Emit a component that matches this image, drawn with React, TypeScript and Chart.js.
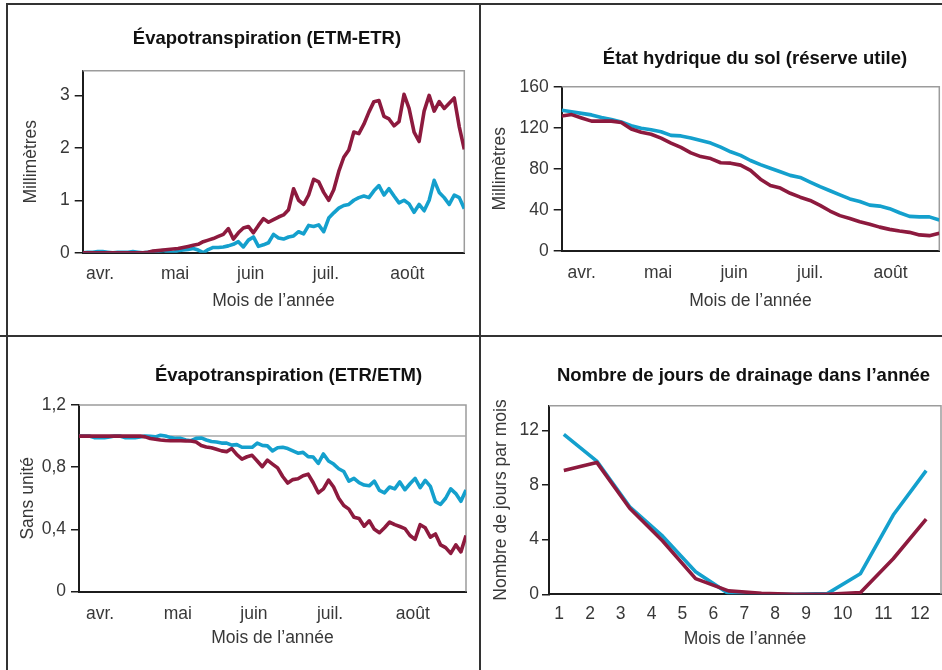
import React, { useEffect, useRef } from 'react';
import { Chart, registerables } from 'chart.js';

Chart.register(...registerables);
Chart.defaults.font.family = "'Liberation Sans', Arial, sans-serif";
Chart.defaults.color = '#333';

// ---------------- DATA ----------------
const WINE = '#8d1a3e';
const CYAN = '#14a0cd';
const REF_GREY = '#a8a8a8';

const MONTH_LABELS = ['avr.', 'mai', 'juin', 'juil.', 'août'];
const X_TITLE = 'Mois de l’année';

// Panel A: Évapotranspiration (ETM-ETR), mm, one value every 2 days from 1 April
const STEP_A = 2;
const ETM_ETR_WINE = [
  0, 0, 0, 0, 0, 0, 0, 0, 0, 0, 0, 0, 0,
  0.01, 0.03, 0.04, 0.05, 0.06, 0.07, 0.08, 0.1, 0.12, 0.14,
  0.16, 0.21, 0.24, 0.27, 0.31, 0.35, 0.46, 0.26, 0.38, 0.47,
  0.5, 0.38, 0.52, 0.65, 0.58, 0.63, 0.68, 0.72, 0.82, 1.22,
  1.0, 0.92, 1.1, 1.4, 1.35, 1.15, 1.0, 1.2, 1.55, 1.82,
  1.96, 2.3, 2.27, 2.45, 2.68, 2.88, 2.9, 2.6, 2.55, 2.42,
  2.5, 3.02, 2.75, 2.3, 2.12, 2.7, 3.0, 2.7, 2.88, 2.75,
  2.85, 2.95, 2.4, 1.97,
];
const ETM_ETR_CYAN = [
  0, 0.01, 0.01, 0.02, 0.02, 0.01, 0, 0.01, 0.01, 0.01, 0.02, 0.01, 0,
  0.01, 0.02, 0.03, 0.04, 0.02, 0.0, 0.04, 0.05, 0.06, 0.08,
  0.05, 0.0, 0.06, 0.1, 0.1, 0.11, 0.13, 0.16, 0.21, 0.11,
  0.24, 0.3, 0.12, 0.15, 0.19, 0.35, 0.28, 0.26, 0.3, 0.32,
  0.4, 0.36, 0.52, 0.5, 0.53, 0.4, 0.66, 0.76, 0.85, 0.9,
  0.92, 1.0, 1.05, 1.08, 1.05, 1.18, 1.28, 1.1, 1.22, 1.08,
  0.95, 1.0, 0.93, 0.77, 0.92, 0.8, 1.0, 1.38, 1.15, 1.05,
  0.92, 1.1, 1.05, 0.84,
];
const Y_TICKS_ETM = [0, 1, 2, 3];

// Panel B: État hydrique du sol (réserve utile), mm, one value every 4 days
const STEP_B = 4;
const RU_CYAN = [
  137, 135.5, 134, 132.5, 130, 128, 125.5, 122, 119.5, 118,
  116, 112.5, 112, 110, 107.5, 105, 101, 96.5, 93, 88,
  84, 80.5, 77, 73.5, 71.5, 67, 62.5, 58.5, 54.5, 50.5,
  48, 44.5, 43.5, 41, 37, 33.5, 33, 33, 30,
];
const RU_WINE = [
  131.5, 132.8, 129.5, 126.4, 126.4, 126.4, 125, 118.7, 115.5, 113.6,
  109.8, 105, 100.8, 95.4, 91.8, 89.9, 85.8, 85.4, 83.5, 78.4,
  69.8, 63.7, 61.1, 56, 52.2, 49, 44.2, 38.7, 34.2, 31.4,
  28.2, 25.9, 23, 20.8, 19.2, 17.9, 15.4, 14.7, 17,
];
const Y_TICKS_RU = [0, 40, 80, 120, 160];

// Panel C: Évapotranspiration (ETR/ETM), ratio, one value every 2 days
const STEP_C = 2;
const ETR_ETM_WINE = [
  1, 1, 1, 1, 1, 1, 1, 1, 1, 1, 1, 1, 1,
  0.995, 0.985, 0.98, 0.975, 0.972, 0.97, 0.97, 0.97, 0.968, 0.968,
  0.962, 0.94, 0.93, 0.925, 0.915, 0.905, 0.9, 0.92, 0.88, 0.852,
  0.867, 0.876, 0.84, 0.803, 0.845, 0.82, 0.795, 0.74, 0.698, 0.72,
  0.725, 0.745, 0.755, 0.7, 0.635, 0.66, 0.717, 0.672, 0.6, 0.553,
  0.53, 0.478, 0.47, 0.42, 0.455, 0.4, 0.378, 0.41, 0.447, 0.43,
  0.418, 0.405, 0.36, 0.335, 0.43, 0.41, 0.35, 0.37, 0.3, 0.282,
  0.245, 0.3, 0.255, 0.36,
];
const ETR_ETM_CYAN = [
  1.0, 1.0, 1.0, 0.99, 0.99, 0.99, 0.995, 1.0, 1.0, 0.99,
  0.99, 0.99, 0.995, 1.0, 0.998, 0.995, 1.005, 1.0, 0.99, 0.985,
  0.985, 0.975, 0.97, 0.985, 0.988, 0.975, 0.965, 0.962, 0.955, 0.955,
  0.942, 0.945, 0.928, 0.928, 0.928, 0.955, 0.94, 0.937, 0.905, 0.925,
  0.928, 0.92, 0.905, 0.89, 0.895, 0.868, 0.865, 0.825, 0.885, 0.84,
  0.82, 0.79, 0.772, 0.71, 0.728, 0.7, 0.685, 0.68, 0.71, 0.65,
  0.635, 0.672, 0.66, 0.705, 0.655, 0.693, 0.728, 0.668, 0.715, 0.676,
  0.578, 0.56, 0.6, 0.66, 0.63, 0.58, 0.653,
];
const ETR_ETM_REF = 1;
const Y_TICKS_RATIO = [0, 0.4, 0.8, 1.2];

// Panel D: Nombre de jours de drainage par mois
const DRAIN_MONTHS = ['1', '2', '3', '4', '5', '6', '7', '8', '9', '10', '11', '12'];
const DRAIN_CYAN = [11.7, 9.75, 6.4, 4.25, 1.65, 0.05, 0, 0, 0.05, 1.5, 5.8, 9.05];
const DRAIN_WINE = [9.05, 9.65, 6.3, 3.9, 1.15, 0.25, 0.08, 0, 0, 0.12, 2.6, 5.5];
const Y_TICKS_DRAIN = [0, 4, 8, 12];

// ---------------- LAYOUT / STYLE ----------------
const AXIS_SIZE = 17.5;
const TITLE_SIZE = 18.5;
const AXIS_LH = AXIS_SIZE * 1.2;
const TITLE_LH = TITLE_SIZE * 1.2;
const AXIS_COLOR = '#1c1c1c';
const TEXT_COLOR = '#383838';
const LINE_W = 3.6;

type Geo = {
  L: number; T: number; B: number;
  cL: number; cR: number; cT: number; cB: number;
  tX: number; tY: number; yTX: number; xLY: number; xTY: number;
  tickLen: number; tickPad: number;
};

const frame = {
  id: 'frame',
  beforeDatasetsDraw(chart: any) {
    const { ctx, chartArea: a } = chart;
    ctx.save();
    ctx.strokeStyle = '#9c9c9c';
    ctx.lineWidth = 1.5;
    ctx.beginPath();
    ctx.moveTo(a.left, a.top);
    ctx.lineTo(a.right, a.top);
    ctx.lineTo(a.right, a.bottom);
    ctx.stroke();
    ctx.restore();
  },
};

const series = (values: number[], step: number, start = 0) =>
  values.map((v, i) => ({ x: start + i * step, y: v }));

const lineDs = (label: string, data: any[], color: string, width = LINE_W) => ({
  label, data, borderColor: color, backgroundColor: color, borderWidth: width,
  pointRadius: 0, tension: 0, fill: false, borderJoinStyle: 'round', xAxisID: 'x', yAxisID: 'y',
});

type Spec = {
  geo: Geo; title: string; yTitle: string;
  datasets: any[];
  xMin: number; xMax: number; xTickAt: number[]; xLabels: string[];
  yMin: number; yMax: number; yTicks: number[]; yFmt: (v: number) => string;
};

function dims(g: Geo) {
  const W = Math.round(2 * (g.tX - g.L));
  const H = g.B - g.T;
  const tPadTop = g.tY - g.T - TITLE_LH / 2;
  return {
    W, H, tPadTop,
    tPadBottom: g.cT - g.T - TITLE_LH - tPadTop,
    yWidth: g.cL - g.L,
    yTitlePad: g.yTX - g.L - AXIS_LH / 2,
    rWidth: g.L + W - g.cR,
    xHeight: g.B - g.cB,
    xTickPad: g.xLY - g.cB - AXIS_LH / 2,
    xTitlePadBottom: g.B - g.xTY - AXIS_LH / 2,
  };
}

function buildConfig(s: Spec): any {
  const d = dims(s.geo);
  return {
    type: 'line',
    data: { datasets: s.datasets },
    options: {
      responsive: false,
      maintainAspectRatio: false,
      animation: false,
      layout: { padding: 0 },
      plugins: {
        legend: { display: false },
        tooltip: { enabled: false },
        title: {
          display: true, text: s.title, color: '#111', fullSize: true,
          font: { size: TITLE_SIZE, weight: 'bold' },
          padding: { top: d.tPadTop, bottom: d.tPadBottom },
        },
      },
      scales: {
        x: {
          type: 'linear', position: 'bottom', min: s.xMin, max: s.xMax,
          afterBuildTicks: (a: any) => { a.ticks = s.xTickAt.map((v) => ({ value: v })); },
          afterFit: (a: any) => { a.height = d.xHeight; },
          ticks: {
            autoSkip: false, maxRotation: 0, minRotation: 0, padding: d.xTickPad,
            color: TEXT_COLOR, font: { size: AXIS_SIZE },
            callback: (_v: any, i: number) => s.xLabels[i],
          },
          grid: { display: false, drawTicks: false, tickLength: 0 },
          border: { display: true, color: AXIS_COLOR, width: 2 },
          title: {
            display: true, text: X_TITLE, color: TEXT_COLOR, font: { size: AXIS_SIZE },
            padding: { top: 0, bottom: d.xTitlePadBottom },
          },
        },
        y: {
          type: 'linear', position: 'left', min: s.yMin, max: s.yMax,
          afterBuildTicks: (a: any) => { a.ticks = s.yTicks.map((v) => ({ value: v })); },
          afterFit: (a: any) => { a.width = d.yWidth; },
          ticks: {
            padding: s.geo.tickPad, color: TEXT_COLOR, font: { size: AXIS_SIZE },
            callback: (v: any) => s.yFmt(Number(v)),
          },
          grid: {
            display: true, drawOnChartArea: false, drawTicks: true,
            tickLength: s.geo.tickLen, color: AXIS_COLOR, lineWidth: 1.5,
          },
          border: { display: true, color: AXIS_COLOR, width: 2 },
          title: {
            display: true, text: s.yTitle, color: TEXT_COLOR, font: { size: AXIS_SIZE },
            padding: { top: d.yTitlePad, bottom: 0 },
          },
        },
        spacer: {
          type: 'linear', position: 'right', display: true,
          afterFit: (a: any) => { a.width = d.rWidth; },
          ticks: { display: false }, grid: { display: false },
          border: { display: false }, title: { display: false },
        },
      },
    },
    plugins: [frame],
  };
}

function Panel({ spec }: { spec: Spec }) {
  const ref = useRef<HTMLCanvasElement | null>(null);
  const d = dims(spec.geo);
  useEffect(() => {
    if (!ref.current) return;
    const chart = new Chart(ref.current, buildConfig(spec));
    return () => chart.destroy();
  }, []);
  return (
    <canvas
      ref={ref}
      width={d.W}
      height={d.H}
      style={{ position: 'absolute', left: spec.geo.L, top: spec.geo.T, width: d.W, height: d.H }}
    />
  );
}

const plain = (v: number) => String(v);
const comma = (v: number) => String(v).replace('.', ',');

const SPECS: Spec[] = [
  {
    geo: { L: 8, T: 8, B: 332, cL: 82.7, cR: 464.3, cT: 70.7, cB: 252.7, tX: 267, tY: 39, yTX: 31, xLY: 274, xTY: 301, tickLen: 8, tickPad: 5 },
    title: 'Évapotranspiration (ETM-ETR)', yTitle: 'Millimètres',
    datasets: [
      lineDs('ETM-ETR (bordeaux)', series(ETM_ETR_WINE, STEP_A), WINE),
      lineDs('ETM-ETR (bleu)', series(ETM_ETR_CYAN, STEP_A), CYAN),
    ],
    xMin: 0, xMax: 152, xTickAt: [6.9, 36.8, 66.9, 96.9, 129.3], xLabels: MONTH_LABELS,
    yMin: 0, yMax: 3.47, yTicks: Y_TICKS_ETM, yFmt: plain,
  },
  {
    geo: { L: 482, T: 8, B: 332, cL: 561.7, cR: 939.3, cT: 86.7, cB: 250.7, tX: 755, tY: 59, yTX: 500, xLY: 273.3, xTY: 301, tickLen: 8, tickPad: 5 },
    title: 'État hydrique du sol (réserve utile)', yTitle: 'Millimètres',
    datasets: [
      lineDs('RU (bordeaux)', series(RU_WINE, STEP_B), WINE),
      lineDs('RU (bleu)', series(RU_CYAN, STEP_B), CYAN),
    ],
    xMin: 0, xMax: 152, xTickAt: [8.05, 38.8, 69.4, 100, 132.4], xLabels: MONTH_LABELS,
    yMin: 0, yMax: 160, yTicks: Y_TICKS_RU, yFmt: plain,
  },
  {
    geo: { L: 8, T: 340, B: 668, cL: 79, cR: 466, cT: 405, cB: 591.5, tX: 288.3, tY: 375.7, yTX: 28.3, xLY: 614.3, xTY: 638.3, tickLen: 8, tickPad: 5 },
    title: 'Évapotranspiration (ETR/ETM)', yTitle: 'Sans unité',
    datasets: [
      lineDs('ETR/ETM (bordeaux)', series(ETR_ETM_WINE, STEP_C), WINE),
      lineDs('ETR/ETM (bleu)', series(ETR_ETM_CYAN, STEP_C), CYAN),
      lineDs('Référence', [{ x: 0, y: ETR_ETM_REF }, { x: 152, y: ETR_ETM_REF }], REF_GREY, 1.5),
    ],
    xMin: 0, xMax: 152, xTickAt: [8.25, 38.8, 68.7, 98.6, 131.1], xLabels: MONTH_LABELS,
    yMin: 0, yMax: 1.2, yTicks: Y_TICKS_RATIO, yFmt: comma,
  },
  {
    geo: { L: 482, T: 340, B: 668, cL: 549, cR: 941, cT: 405.7, cB: 594.3, tX: 743.7, tY: 375.7, yTX: 500.7, xLY: 614.3, xTY: 639, tickLen: 7, tickPad: 3 },
    title: 'Nombre de jours de drainage dans l’année', yTitle: 'Nombre de jours par mois',
    datasets: [
      lineDs('Drainage (bordeaux)', series(DRAIN_WINE, 1, 1), WINE),
      lineDs('Drainage (bleu)', series(DRAIN_CYAN, 1, 1), CYAN),
    ],
    xMin: 0.55, xMax: 12.45,
    xTickAt: [0.854, 1.795, 2.727, 3.668, 4.597, 5.538, 6.479, 7.411, 8.352, 9.466, 10.699, 11.813],
    xLabels: DRAIN_MONTHS,
    yMin: 0, yMax: 13.8, yTicks: Y_TICKS_DRAIN, yFmt: plain,
  },
];

const rule = (style: React.CSSProperties) => (
  <div style={{ position: 'absolute', background: '#333', ...style }} />
);

export default function App() {
  return (
    <div style={{ position: 'absolute', left: 0, top: 0, width: 942, height: 670, overflow: 'hidden', background: '#fff' }}>
      {SPECS.map((s, i) => <Panel key={i} spec={s} />)}
      {rule({ left: 6, top: 3, width: 936, height: 2 })}
      {rule({ left: 6, top: 3, width: 2, height: 667 })}
      {rule({ left: 479, top: 3, width: 2, height: 667 })}
      {rule({ left: 0, top: 335, width: 942, height: 2 })}
    </div>
  );
}
